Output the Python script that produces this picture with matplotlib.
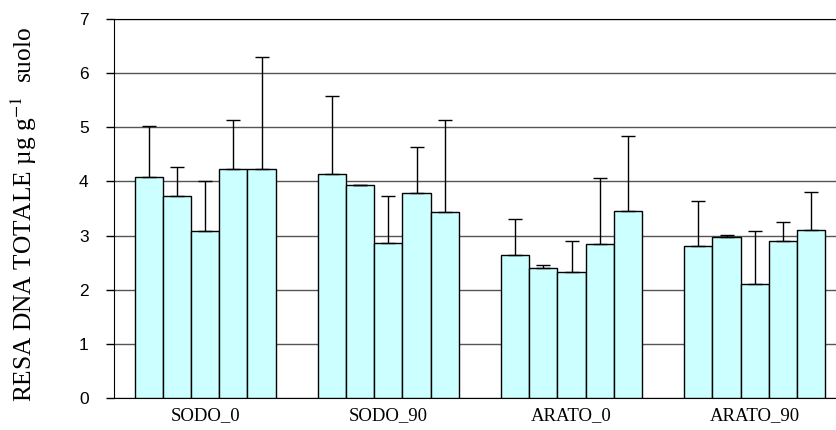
import matplotlib.pyplot as plt
import numpy as np

plt.rcParams['mathtext.fontset'] = 'stix'

gruppi = ['SODO_0', 'SODO_90', 'ARATO_0', 'ARATO_90']

# medie (5 campioni per gruppo)
medie = [
    [4.08, 3.73, 3.08, 4.23, 4.22],
    [4.14, 3.93, 2.86, 3.79, 3.43],
    [2.65, 2.40, 2.32, 2.84, 3.45],
    [2.80, 2.98, 2.10, 2.90, 3.10],
]
# estremo superiore della barra d'errore
sup_errore = [
    [5.03, 4.26, 4.01, 5.13, 6.29],
    [5.58, 3.94, 3.73, 4.63, 5.13],
    [3.31, 2.46, 2.91, 4.06, 4.84],
    [3.64, 3.02, 3.08, 3.26, 3.81],
]

medie = np.array(medie)
errori = np.array(sup_errore) - medie

fig = plt.figure(figsize=(8.36, 4.30), dpi=100)
ax = fig.add_axes([0.1359, 0.0737, 0.8764, 0.8828])

n = medie.shape[1]
larghezza = 1.0 / (n + 1.5)
x = np.arange(len(gruppi))
for i in range(n):
    pos = x - larghezza * n / 2 + larghezza * (i + 0.5)
    ax.bar(pos, medie[:, i], width=larghezza, color='#CCFFFF',
           edgecolor='black', linewidth=1, zorder=3)
    ax.errorbar(pos, medie[:, i], yerr=[np.zeros(len(gruppi)), errori[:, i]],
                fmt='none', ecolor='black', elinewidth=1, capsize=5,
                capthick=1, zorder=4)

ax.set_xlim(-0.5, 3.5)
ax.set_ylim(0, 7)
ax.set_yticks(range(8))
ax.set_yticklabels([str(v) for v in range(8)], fontsize=12.5,
                   family='Liberation Sans')
ax.set_xticks(x)
ax.set_xticklabels(gruppi, fontsize=13.5, family='Liberation Serif')
ax.tick_params(axis='x', length=0, pad=6)
ax.tick_params(axis='y', length=6, width=1, color='black', pad=12)

ax.yaxis.grid(True, color='#555555', linewidth=1, zorder=0)
ax.set_axisbelow(True)
ax.spines['right'].set_visible(False)
ax.spines['top'].set_color('black')
ax.spines['left'].set_color('black')
ax.spines['bottom'].set_color('black')

ax.set_ylabel('RESA DNA TOTALE µg g$^{-1}$  suolo', fontsize=18.3,
              family='Liberation Serif')
ax.yaxis.set_label_coords(-0.102, 0.485)

plt.savefig('out.png', dpi=100)
